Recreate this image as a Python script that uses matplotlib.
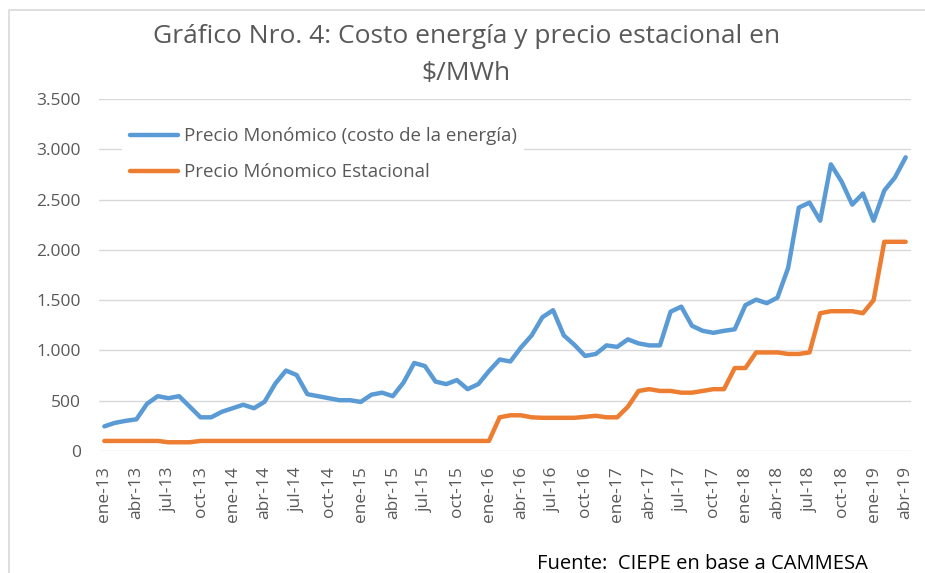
import matplotlib.pyplot as plt
from matplotlib.lines import Line2D

plt.rcParams['font.family'] = ['Open Sans', 'DejaVu Sans']

meses = ["ene", "feb", "mar", "abr", "may", "jun", "jul", "ago", "sep", "oct", "nov", "dic"]
fechas = [f"{meses[m]}-{a}" for a in range(13, 20) for m in range(12)][:76]

# Precio Monómico (costo de la energía), $/MWh
monomico = [245, 280, 300, 315, 470, 545, 525, 545, 440, 335, 335, 390,
            425, 460, 425, 490, 670, 800, 755, 565, 545, 525, 505, 505,
            488, 560, 580, 545, 680, 875, 845, 690, 665, 705, 615, 665,
            795, 910, 890, 1030, 1150, 1330, 1400, 1150, 1055, 945, 965, 1050,
            1035, 1110, 1070, 1050, 1050, 1385, 1435, 1245, 1195, 1175, 1195, 1210,
            1450, 1505, 1470, 1525, 1820, 2420, 2470, 2290, 2850, 2680, 2450, 2560,
            2290, 2590, 2720, 2920]

# Precio Mónomico Estacional, $/MWh
estacional = [100, 100, 100, 100, 100, 100, 87, 87, 87, 100, 100, 100,
              100, 100, 100, 100, 100, 100, 100, 100, 100, 100, 100, 100,
              100, 100, 100, 100, 100, 100, 100, 100, 100, 100, 100, 100,
              100, 335, 355, 355, 335, 330, 330, 330, 330, 340, 350, 335,
              335, 440, 597, 615, 597, 597, 580, 580, 597, 615, 615, 825,
              825, 980, 980, 980, 965, 965, 980, 1370, 1390, 1390, 1390, 1370,
              1500, 2080, 2080, 2080]

gris = "#595959"
fig = plt.figure(figsize=(9.25, 5.73), dpi=100)
ax = fig.add_axes([99 / 925, 1 - 451 / 573, 812 / 925, 352 / 573])

x = list(range(len(fechas)))
ax.plot(x, monomico, color="#5B9BD5", lw=3.2, solid_capstyle="round",
        label="Precio Monómico (costo de la energía)")
ax.plot(x, estacional, color="#ED7D31", lw=3.2, solid_capstyle="round",
        label="Precio Mónomico Estacional")

ax.set_xlim(-0.5, len(fechas) - 0.5)
ax.set_ylim(0, 3500)
yt = list(range(0, 3501, 500))
ax.set_yticks(yt)
ax.set_yticklabels([f"{v:,}".replace(",", ".") for v in yt])
ax.set_xticks(x[::3])
ax.set_xticklabels(fechas[::3], rotation=90)
ax.tick_params(axis="both", length=0, colors=gris, labelsize=12.5)
ax.tick_params(axis="y", pad=13)
ax.tick_params(axis="x", pad=11)
ax.grid(axis="y", color="#d9d9d9", lw=1)
ax.set_axisbelow(True)
for s in ax.spines.values():
    s.set_visible(False)

leg = ax.legend(loc="upper left", bbox_to_anchor=(0.0289, 0.941), frameon=True,
                fontsize=13.5, handlelength=2.56, labelspacing=0.95,
                borderaxespad=0, borderpad=0.4, handletextpad=0.3)
leg.get_frame().set_edgecolor("none")
leg.get_frame().set_facecolor("white")
leg.get_frame().set_alpha(1)
for t in leg.get_texts():
    t.set_color(gris)

fig.text(0.504, 1 - 43 / 573, "Gráfico Nro. 4: Costo energía y precio estacional en",
         ha="center", va="baseline", fontsize=19, color=gris)
fig.text(0.504, 1 - 80 / 573, "$/MWh",
         ha="center", va="baseline", fontsize=19, color=gris)
fig.text(537 / 925, 1 - 569 / 573, "Fuente:  CIEPE en base a CAMMESA",
         ha="left", va="baseline", fontsize=14.5, color="black")

# borde del área del gráfico (solo arriba e izquierda quedan dentro de la imagen)
fig.add_artist(Line2D([8.5 / 925, 8.5 / 925, 1], [0, 1 - 9.5 / 573, 1 - 9.5 / 573],
                      transform=fig.transFigure, color="#d9d9d9", lw=1.2))

fig.savefig("out.png", dpi=100)
